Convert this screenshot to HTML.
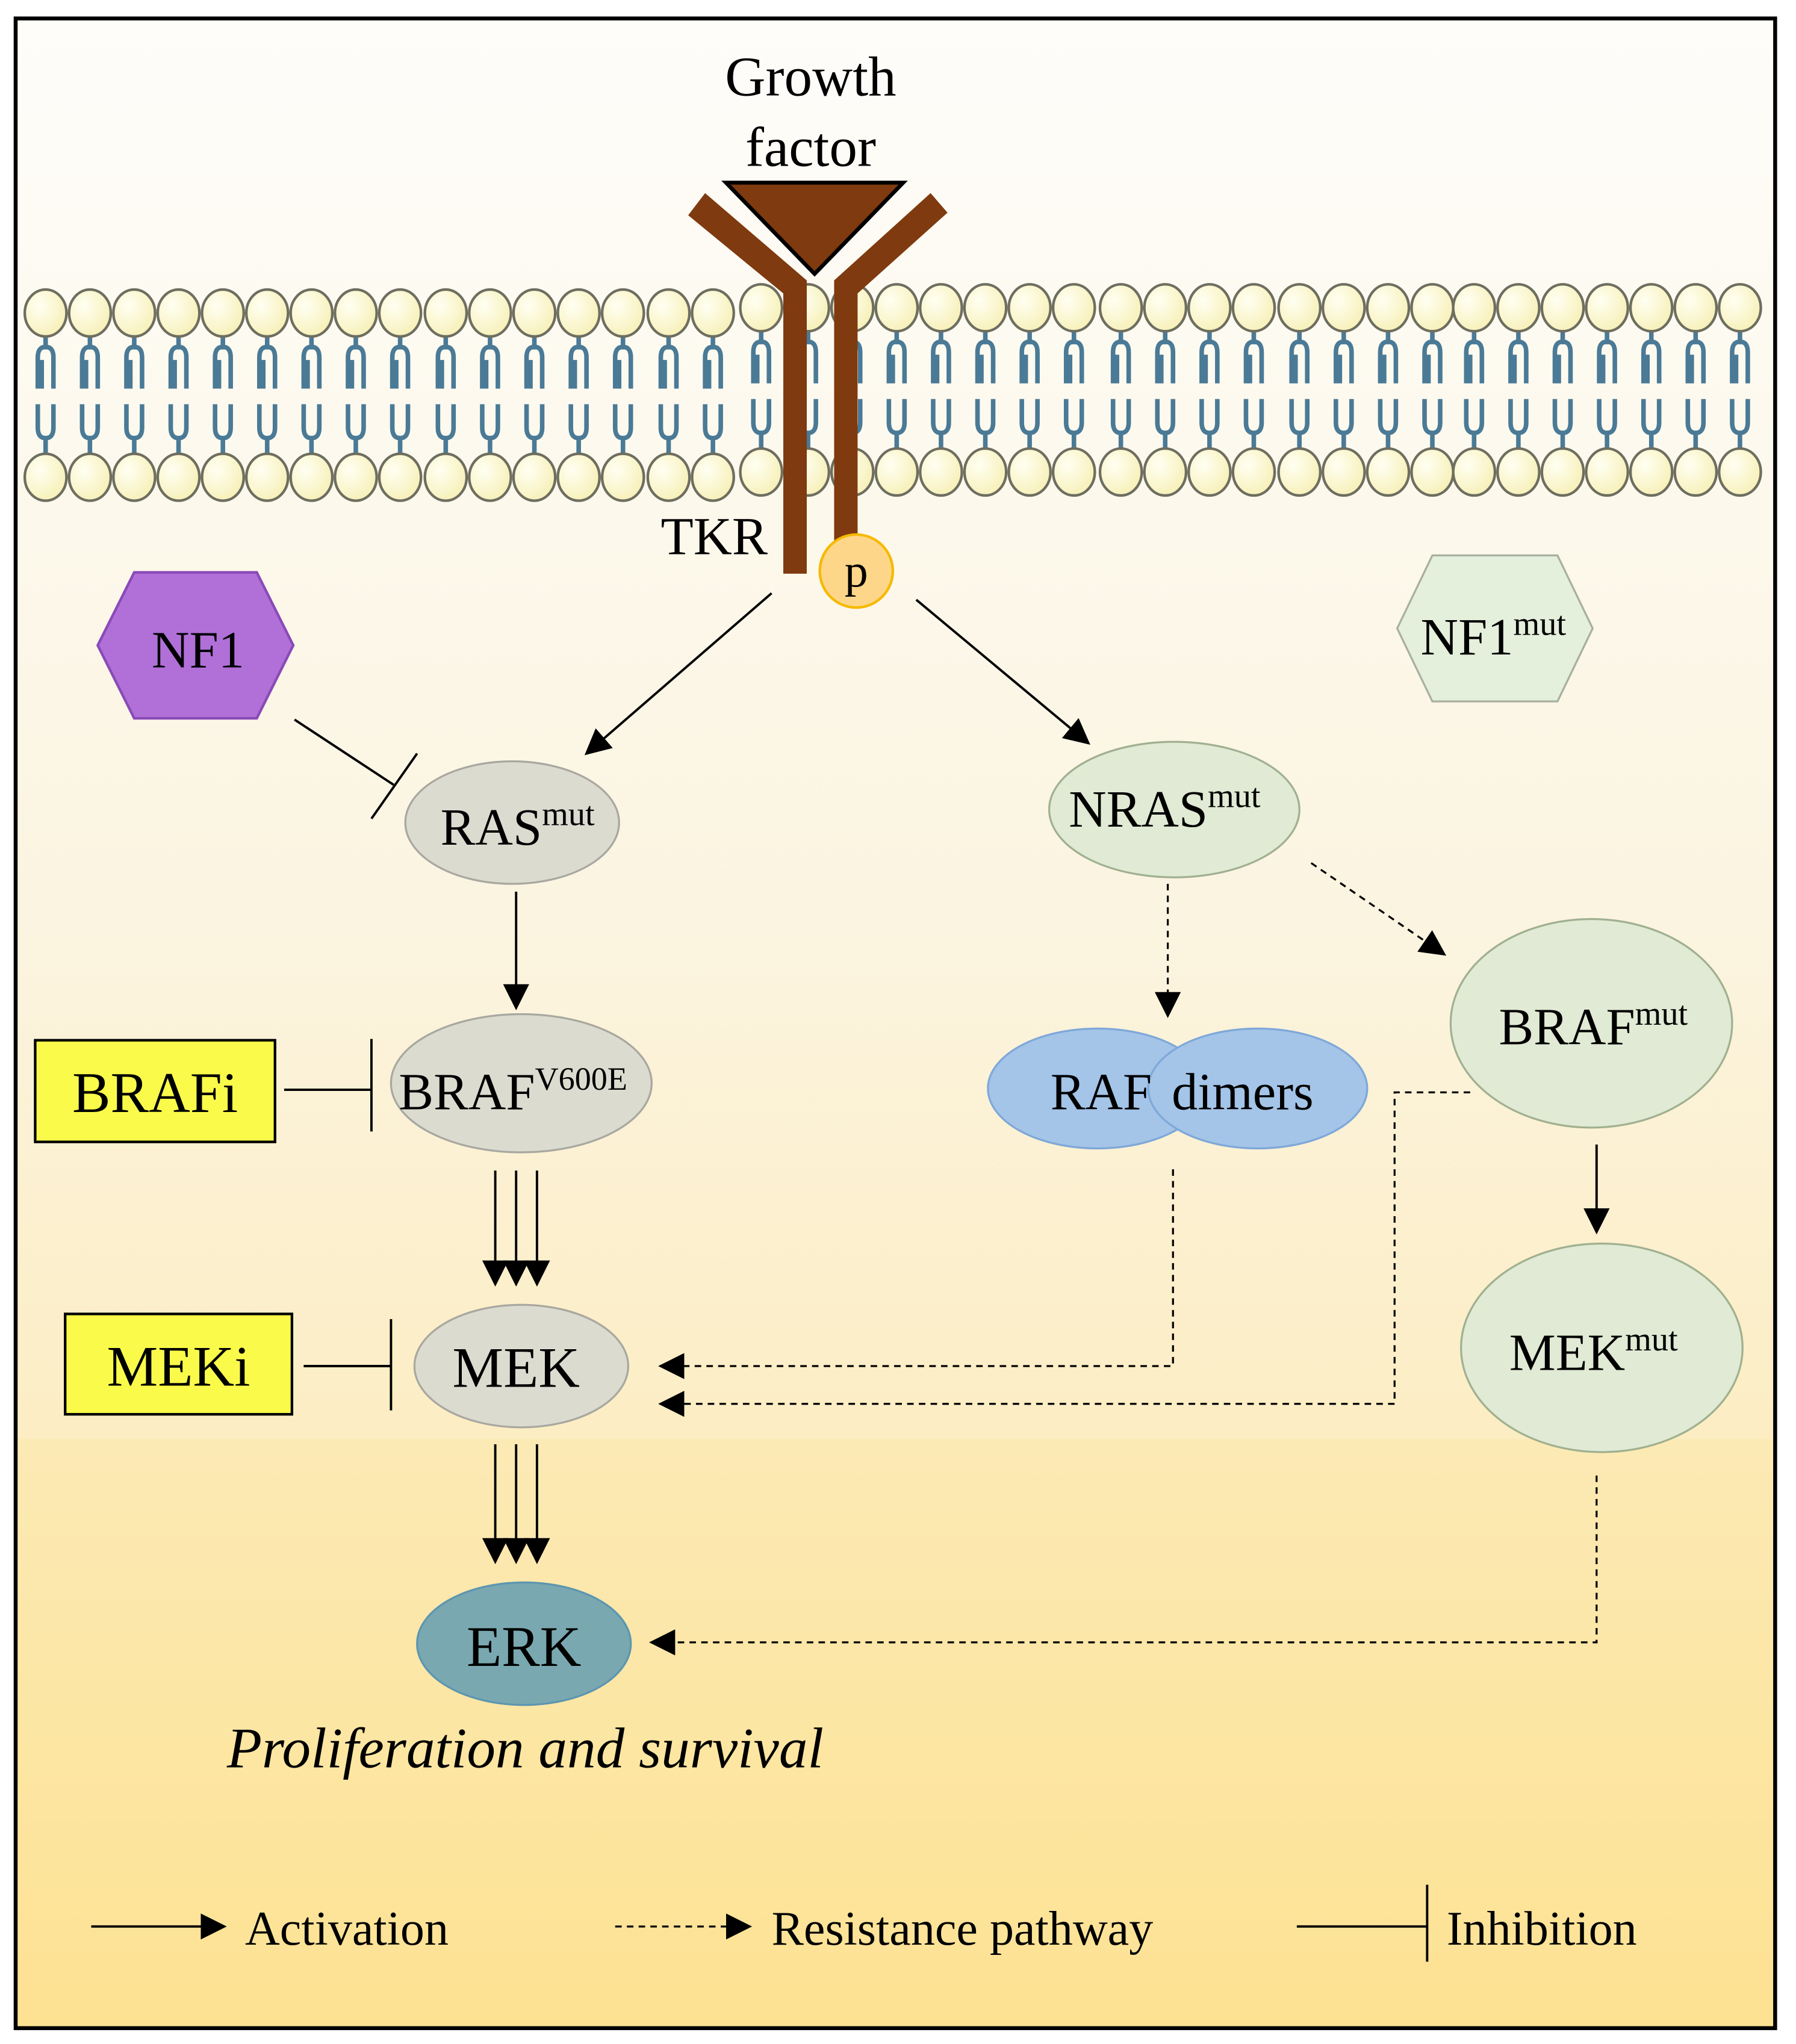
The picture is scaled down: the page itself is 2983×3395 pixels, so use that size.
<!DOCTYPE html>
<html><head><meta charset="utf-8"><style>html,body{margin:0;padding:0;background:#fff}svg{display:block}</style></head>
<body>
<svg width="2983" height="3395" viewBox="0 0 1378 1568" xmlns="http://www.w3.org/2000/svg" font-family="'Liberation Serif', serif">
<defs>
<linearGradient id="bg" x1="0" y1="0" x2="0" y2="1">
<stop offset="0" stop-color="#fefdfa"/>
<stop offset="0.45" stop-color="#fbf4e0"/>
<stop offset="0.7" stop-color="#fcedc4"/>
<stop offset="1" stop-color="#fde08e"/>
</linearGradient>
<radialGradient id="hd" cx="0.35" cy="0.35" r="0.7">
<stop offset="0" stop-color="#fffff2"/><stop offset="1" stop-color="#f7f0b8"/>
</radialGradient>
<marker id="ab" viewBox="0 0 10 10" refX="9" refY="5" markerWidth="20" markerHeight="20" orient="auto" markerUnits="userSpaceOnUse"><path d="M0,0 L10,5 L0,10z" fill="#000"/></marker>
<g id="lip">
<path d="M0,18 V28 M-6,58 V34 Q-6,26 0,26 Q6,26 6,34 V58 M-3,58 V36" stroke="#4a7a96" stroke-width="3.5" fill="none"/>
<path d="M0,108 V96 M-6,70 V88 Q-6,96 0,96 Q6,96 6,88 V70" stroke="#4a7a96" stroke-width="3.5" fill="none"/>
<ellipse cx="0" cy="0" rx="16" ry="18" fill="url(#hd)" stroke="#6e6e60" stroke-width="2"/>
<ellipse cx="0" cy="126" rx="16" ry="18" fill="url(#hd)" stroke="#6e6e60" stroke-width="2"/>
</g>
</defs>
<rect x="12" y="14" width="1350" height="1542" fill="url(#bg)" stroke="#000" stroke-width="3"/>
<rect x="14" y="1104" width="1346" height="450" fill="#fde49a" opacity="0.35"/>
<g id="mem">
<use href="#lip" x="35" y="240"/><use href="#lip" x="69" y="240"/><use href="#lip" x="103" y="240"/><use href="#lip" x="137" y="240"/><use href="#lip" x="171" y="240"/><use href="#lip" x="205" y="240"/><use href="#lip" x="239" y="240"/><use href="#lip" x="273" y="240"/><use href="#lip" x="307" y="240"/><use href="#lip" x="342" y="240"/><use href="#lip" x="376" y="240"/><use href="#lip" x="410" y="240"/><use href="#lip" x="444" y="240"/><use href="#lip" x="478" y="240"/><use href="#lip" x="513" y="240"/><use href="#lip" x="547" y="240"/><use href="#lip" x="584" y="236"/><use href="#lip" x="620" y="236"/><use href="#lip" x="654" y="236"/><use href="#lip" x="688" y="236"/><use href="#lip" x="722" y="236"/><use href="#lip" x="756" y="236"/><use href="#lip" x="790" y="236"/><use href="#lip" x="824" y="236"/><use href="#lip" x="860" y="236"/><use href="#lip" x="894" y="236"/><use href="#lip" x="928" y="236"/><use href="#lip" x="962" y="236"/><use href="#lip" x="997" y="236"/><use href="#lip" x="1031" y="236"/><use href="#lip" x="1065" y="236"/><use href="#lip" x="1099" y="236"/><use href="#lip" x="1131" y="236"/><use href="#lip" x="1165" y="236"/><use href="#lip" x="1199" y="236"/><use href="#lip" x="1233" y="236"/><use href="#lip" x="1267" y="236"/><use href="#lip" x="1301" y="236"/><use href="#lip" x="1335" y="236"/>
</g>
<g fill="#7f3a0f">
<polygon points="528,165 541,148 619,215 619,440 601,440 601,225"/>
<polygon points="727,163 714,148 640,215 640,415 658,415 658,225"/>
</g>
<polygon points="557,140 693,140 625,210" fill="#7f3a0f" stroke="#000" stroke-width="3"/>
<text x="622" y="73" font-size="43" text-anchor="middle">Growth</text>
<text x="622" y="127" font-size="43" text-anchor="middle">factor</text>
<text x="548" y="425" font-size="41" text-anchor="middle">TKR</text>
<circle cx="657" cy="438" r="28" fill="#fdd68a" stroke="#f6b900" stroke-width="2"/>
<text x="657" y="450" font-size="36" text-anchor="middle">p</text>
<g stroke="#000" stroke-width="1.8" fill="none">
<line x1="592" y1="455" x2="450" y2="578" marker-end="url(#ab)"/>
<line x1="703" y1="460" x2="835" y2="570" marker-end="url(#ab)"/>
<line x1="226" y1="552" x2="302" y2="602"/>
<line x1="285" y1="628" x2="320" y2="578"/>
<line x1="396" y1="684" x2="396" y2="773" marker-end="url(#ab)"/>
<line x1="218" y1="836" x2="285" y2="836"/><line x1="285" y1="797" x2="285" y2="868"/>
<line x1="380" y1="898" x2="380" y2="985" marker-end="url(#ab)"/>
<line x1="396" y1="898" x2="396" y2="985" marker-end="url(#ab)"/>
<line x1="412" y1="898" x2="412" y2="985" marker-end="url(#ab)"/>
<line x1="233" y1="1048" x2="300" y2="1048"/><line x1="300" y1="1012" x2="300" y2="1082"/>
<line x1="380" y1="1108" x2="380" y2="1198" marker-end="url(#ab)"/>
<line x1="396" y1="1108" x2="396" y2="1198" marker-end="url(#ab)"/>
<line x1="412" y1="1108" x2="412" y2="1198" marker-end="url(#ab)"/>
<line x1="1225" y1="878" x2="1225" y2="945" marker-end="url(#ab)"/>
</g>
<g stroke="#000" stroke-width="1.5" fill="none" stroke-dasharray="5,4">
<line x1="896" y1="678" x2="896" y2="779" marker-end="url(#ab)"/>
<line x1="1006" y1="662" x2="1108" y2="732" marker-end="url(#ab)"/>
<polyline points="900,897 900,1048 507,1048" marker-end="url(#ab)"/>
<polyline points="1128,838 1070,838 1070,1077 507,1077" marker-end="url(#ab)"/>
<polyline points="1225,1132 1225,1260 500,1260" marker-end="url(#ab)"/>
</g>
<polygon points="75,495 103,439 197,439 225,495 197,551 103,551" fill="#b070d8" stroke="#8a4ab8" stroke-width="2"/>
<text x="152" y="512" font-size="40" text-anchor="middle">NF1</text>
<polygon points="1072,482 1099,426 1195,426 1222,482 1195,538 1099,538" fill="#e4efdc" stroke="#a8b0a0" stroke-width="1.5"/>
<text x="1090" y="502" font-size="40">NF1<tspan font-size="26" dy="-15">mut</tspan></text>
<ellipse cx="393" cy="631" rx="82" ry="47" fill="#dcdbd0" stroke="#a8a8a0" stroke-width="1.5"/>
<text x="338" y="648" font-size="40">RAS<tspan font-size="26" dy="-15">mut</tspan></text>
<ellipse cx="400" cy="831" rx="100" ry="53" fill="#dcdbd0" stroke="#a8a8a0" stroke-width="1.5"/>
<text x="306" y="851" font-size="40">BRAF<tspan font-size="25" dy="-15">V600E</tspan></text>
<rect x="27" y="798" width="184" height="78" fill="#fafa4a" stroke="#000" stroke-width="2"/>
<text x="119" y="853" font-size="44" text-anchor="middle">BRAFi</text>
<ellipse cx="400" cy="1048" rx="82" ry="47" fill="#dcdbd0" stroke="#a8a8a0" stroke-width="1.5"/>
<text x="396" y="1064" font-size="44" text-anchor="middle">MEK</text>
<rect x="50" y="1008" width="174" height="77" fill="#fafa4a" stroke="#000" stroke-width="2"/>
<text x="137" y="1063" font-size="44" text-anchor="middle">MEKi</text>
<ellipse cx="402" cy="1261" rx="82" ry="47" fill="#7aa8b0" stroke="#5c96b0" stroke-width="1.5"/>
<text x="402" y="1278" font-size="44" text-anchor="middle">ERK</text>
<text x="403" y="1356" font-size="44" font-style="italic" text-anchor="middle">Proliferation and survival</text>
<ellipse cx="901" cy="621" rx="96" ry="52" fill="#e0ead4" stroke="#a0b090" stroke-width="1.5"/>
<text x="820" y="634" font-size="40">NRAS<tspan font-size="26" dy="-15">mut</tspan></text>
<ellipse cx="842" cy="835" rx="84" ry="46" fill="#a4c4e8" stroke="#7ea8d8" stroke-width="1.5"/>
<ellipse cx="965" cy="835" rx="84" ry="46" fill="#a4c4e8" stroke="#7ea8d8" stroke-width="1.5"/>
<text x="806" y="851" font-size="40">RAF</text>
<text x="899" y="851" font-size="40">dimers</text>
<ellipse cx="1221" cy="785" rx="108" ry="80" fill="#e0ead4" stroke="#a0b090" stroke-width="1.5"/>
<text x="1150" y="801" font-size="40">BRAF<tspan font-size="26" dy="-15">mut</tspan></text>
<ellipse cx="1229" cy="1034" rx="108" ry="80" fill="#e0ead4" stroke="#a0b090" stroke-width="1.5"/>
<text x="1158" y="1051" font-size="40">MEK<tspan font-size="26" dy="-15">mut</tspan></text>
<line x1="70" y1="1478" x2="172" y2="1478" stroke="#000" stroke-width="1.8" marker-end="url(#ab)"/>
<text x="188" y="1492" font-size="37">Activation</text>
<line x1="472" y1="1478" x2="575" y2="1478" stroke="#000" stroke-width="1.5" stroke-dasharray="5,4" marker-end="url(#ab)"/>
<text x="592" y="1492" font-size="37">Resistance pathway</text>
<line x1="995" y1="1478" x2="1095" y2="1478" stroke="#000" stroke-width="1.8"/>
<line x1="1095" y1="1446" x2="1095" y2="1505" stroke="#000" stroke-width="1.8"/>
<text x="1110" y="1492" font-size="37">Inhibition</text>
</svg>
</body></html>
